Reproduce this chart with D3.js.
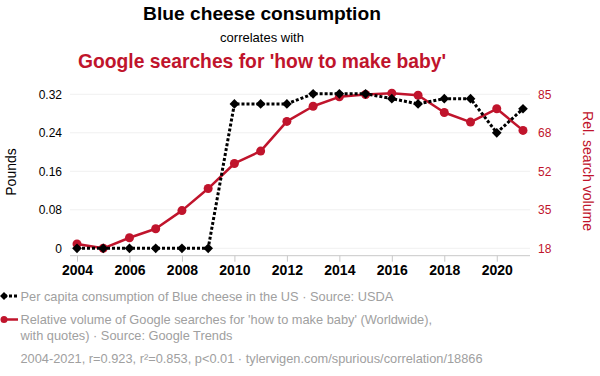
<!DOCTYPE html>
<html>
<head>
<meta charset="utf-8">
<script src="https://cdn.jsdelivr.net/npm/d3@7"></script>
<style>
  html, body { margin: 0; padding: 0; background: #fff; }
  svg { display: block; font-family: "Liberation Sans", Arial, sans-serif; }
</style>
</head>
<body>
<div id="chart"></div>
<script>
const years = [2004, 2005, 2006, 2007, 2008, 2009, 2010, 2011, 2012, 2013, 2014, 2015, 2016, 2017, 2018, 2019, 2020, 2021];
const cheese = [0, 0, 0, 0, 0, 0, 0.30, 0.30, 0.30, 0.321, 0.321, 0.321, 0.311, 0.30, 0.311, 0.311, 0.24, 0.29];
const searches = [19.9, 18, 22.6, 26.5, 34.4, 44, 54.9, 60.3, 73.2, 79.8, 83.9, 84.9, 85.5, 84.6, 77.1, 72.9, 78.7, 69.3];
const xTicks = [2004, 2006, 2008, 2010, 2012, 2014, 2016, 2018, 2020];
const leftTicks = [0, 0.08, 0.16, 0.24, 0.32];
const rightTicks = [18, 34.75, 51.5, 68.25, 85];

const w = 600, h = 376;
const red = "#c0142c";
const plot = { left: 70, right: 530, top: 94.3, bottom: 248.3, axisY: 255.7 };

const svg = d3.select("#chart").append("svg").attr("width", w).attr("height", h);

const x = d3.scaleLinear().domain([2004, 2021]).range([77, 523]);
const yL = d3.scaleLinear().domain([0, 0.32]).range([plot.bottom, plot.top]);
const yR = d3.scaleLinear().domain([18, 85]).range([plot.bottom, plot.top]);

// titles
const cx = 262;
svg.append("text").attr("x", cx).attr("y", 20).attr("text-anchor", "middle")
  .attr("font-size", 19.2).attr("font-weight", "bold").attr("fill", "#000").text("Blue cheese consumption");
svg.append("text").attr("x", cx).attr("y", 41.5).attr("text-anchor", "middle")
  .attr("font-size", 13).attr("fill", "#000").text("correlates with");
svg.append("text").attr("x", cx).attr("y", 68).attr("text-anchor", "middle")
  .attr("font-size", 19.3).attr("font-weight", "bold").attr("fill", red).text("Google searches for 'how to make baby'");

// grid
svg.append("g").selectAll("line").data(leftTicks).join("line")
  .attr("x1", plot.left).attr("x2", plot.right)
  .attr("y1", d => yL(d)).attr("y2", d => yL(d))
  .attr("stroke", "#f0f0f0").attr("stroke-width", 1);

// left axis
const leftAxis = svg.append("g").attr("transform", `translate(${plot.left},0)`)
  .call(d3.axisLeft(yL).tickValues(leftTicks).tickSize(0).tickPadding(8)
    .tickFormat(d => d === 0 ? "0" : d.toFixed(2)));
leftAxis.select(".domain").remove();
leftAxis.selectAll("text").attr("font-size", 12).attr("font-family", null).attr("fill", "#000");

// right axis
const rightAxis = svg.append("g").attr("transform", `translate(${plot.right},0)`)
  .call(d3.axisRight(yR).tickValues(rightTicks).tickSize(0).tickPadding(8)
    .tickFormat(d => Math.round(d)));
rightAxis.select(".domain").remove();
rightAxis.selectAll("text").attr("font-size", 12).attr("font-family", null).attr("fill", red);

// x axis
const xAxis = svg.append("g").attr("transform", `translate(0,${plot.axisY})`)
  .call(d3.axisBottom(x).tickValues(xTicks).tickSize(6).tickPadding(3).tickFormat(d3.format("d")));
xAxis.select(".domain").attr("d", `M${plot.left},0H${plot.right}`).attr("stroke", "#c8c8c8");
xAxis.selectAll(".tick line").attr("stroke", "#c8c8c8");
xAxis.selectAll("text").attr("font-size", 14).attr("font-weight", "bold").attr("font-family", null).attr("fill", "#000");

// axis titles
svg.append("text").attr("transform", "translate(16,172) rotate(-90)").attr("text-anchor", "middle")
  .attr("font-size", 14).attr("fill", "#000").text("Pounds");
svg.append("text").attr("transform", "translate(583,171) rotate(90)").attr("text-anchor", "middle")
  .attr("font-size", 14).attr("fill", red).text("Rel. search volume");

// search series
const redLine = d3.line().x((d, i) => x(years[i])).y(d => yR(d));
svg.append("path").datum(searches).attr("d", redLine)
  .attr("fill", "none").attr("stroke", red).attr("stroke-width", 2.5).attr("stroke-linejoin", "round");
svg.append("g").selectAll("circle").data(searches).join("circle")
  .attr("cx", (d, i) => x(years[i])).attr("cy", d => yR(d)).attr("r", 4.5).attr("fill", red);

// cheese series
const blackLine = d3.line().x((d, i) => x(years[i])).y(d => yL(d));
svg.append("path").datum(cheese).attr("d", blackLine)
  .attr("fill", "none").attr("stroke", "#000").attr("stroke-width", 3).attr("stroke-dasharray", "3,2");
const diamond = d3.symbol().type(d3.symbolDiamond2).size(60);
svg.append("g").selectAll("path").data(cheese).join("path")
  .attr("d", diamond)
  .attr("transform", (d, i) => `translate(${x(years[i])},${yL(d)})`)
  .attr("fill", "#000");

// legend
const grey = "#a0a0a0";
const fs = 12.8;
const lg = svg.append("g");
lg.append("line").attr("x1", 4).attr("x2", 18).attr("y1", 296).attr("y2", 296)
  .attr("stroke", "#000").attr("stroke-width", 3).attr("stroke-dasharray", "3,2");
lg.append("path").attr("d", d3.symbol().type(d3.symbolDiamond2).size(40)).attr("transform", "translate(4,296)");
lg.append("text").attr("x", 20.5).attr("y", 300.7).attr("font-size", fs).attr("fill", grey)
  .text("Per capita consumption of Blue cheese in the US · Source: USDA");
lg.append("line").attr("x1", 4).attr("x2", 18).attr("y1", 319.5).attr("y2", 319.5)
  .attr("stroke", red).attr("stroke-width", 2.5);
lg.append("circle").attr("cx", 4).attr("cy", 319.5).attr("r", 3.5).attr("fill", red);
lg.append("text").attr("x", 20.5).attr("y", 324).attr("font-size", fs).attr("fill", grey)
  .text("Relative volume of Google searches for 'how to make baby' (Worldwide),");
lg.append("text").attr("x", 20.5).attr("y", 340).attr("font-size", fs).attr("fill", grey)
  .text("with quotes) · Source: Google Trends");
lg.append("text").attr("x", 20.5).attr("y", 363.3).attr("font-size", fs).attr("fill", grey)
  .text("2004-2021, r=0.923, r²=0.853, p<0.01 · tylervigen.com/spurious/correlation/18866");
</script>
</body>
</html>
